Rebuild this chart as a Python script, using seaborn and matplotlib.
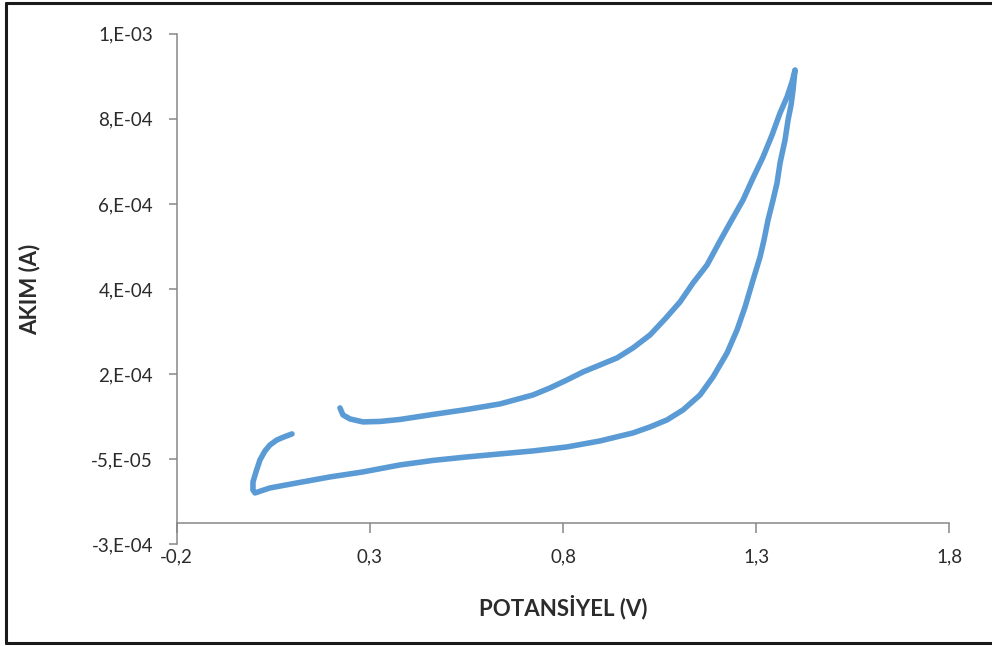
import numpy as np
import pandas as pd
import matplotlib
matplotlib.use("Agg")
import matplotlib.pyplot as plt
import seaborn as sns
from matplotlib.lines import Line2D

# Cyclic voltammogram: potential (V) and current (in units of 1e-4 A)
# forward (anodic) sweep
fwd_v = [0.2227, 0.2305, 0.2486, 0.2823, 0.3263, 0.3781, 0.4635, 0.5515, 0.6369,
         0.7224, 0.7664, 0.8104, 0.8518, 0.8958, 0.9398, 0.9812, 1.0252, 1.0641,
         1.1029, 1.1366, 1.1728, 1.2064, 1.2323, 1.2660, 1.2919, 1.3178, 1.3411,
         1.3618, 1.3799, 1.3928, 1.4006]
fwd_i = [0.706, 0.541, 0.447, 0.377, 0.388, 0.435, 0.553, 0.670, 0.800,
         1.011, 1.176, 1.364, 1.552, 1.716, 1.881, 2.116, 2.421, 2.797,
         3.197, 3.643, 4.066, 4.631, 5.053, 5.594, 6.111, 6.605, 7.122,
         7.639, 8.015, 8.367, 8.649]

# reverse (cathodic) sweep
rev_v = [1.3954, 1.3903, 1.3825, 1.3747, 1.3618, 1.3540, 1.3437, 1.3307, 1.3203,
         1.3100, 1.2919, 1.2712, 1.2505, 1.2246, 1.1883, 1.1547, 1.1107, 1.0692,
         1.0252, 0.9812, 0.8958, 0.8104, 0.7224, 0.6369, 0.5515, 0.4635, 0.3781,
         0.2823, 0.1968, 0.1114, 0.0415, 0.0027]
rev_i = [8.179, 7.827, 7.474, 7.004, 6.464, 5.994, 5.594, 5.124, 4.654,
         4.254, 3.714, 3.079, 2.539, 1.998, 1.434, 1.011, 0.659, 0.424,
         0.259, 0.118, -0.070, -0.211, -0.305, -0.375, -0.446, -0.528, -0.634,
         -0.798, -0.916, -1.057, -1.175, -1.292]

# second forward sweep after the switching potential
ret_v = [-0.0025, -0.0025, 0.0053, 0.0156, 0.0286, 0.0415, 0.0596, 0.0778, 0.0985]
ret_i = [-1.222, -1.033, -0.798, -0.516, -0.305, -0.164, -0.046, 0.024, 0.095]

x_ticks = [-0.2, 0.3, 0.8, 1.3, 1.8]
x_tick_labels = ["-0,2", "0,3", "0,8", "1,3", "1,8"]
y_ticks = [-2.5e-4, -0.5e-4, 1.5e-4, 3.5e-4, 5.5e-4, 7.5e-4, 9.5e-4]
y_tick_labels = ["-3,E-04", "-5,E-05", "2,E-04", "4,E-04", "6,E-04", "8,E-04", "1,E-03"]

potential = fwd_v + rev_v + ret_v
current = [c * 1e-4 for c in fwd_i + rev_i + ret_i]
df = pd.DataFrame({"step": np.arange(len(potential)),
                   "POTANSİYEL (V)": potential,
                   "AKIM (A)": current})

sns.set_theme(style="white")
plt.rcParams["font.family"] = ["Lato", "DejaVu Sans"]

fig = plt.figure(figsize=(9.92, 6.46), dpi=100)
ax = fig.add_axes([0.1781, 0.1574, 0.7789, 0.7903])

sns.lineplot(data=df, x="POTANSİYEL (V)", y="AKIM (A)", sort=False, estimator=None,
             color="#5B9BD5", linewidth=4.0, ax=ax)
for ln in ax.get_lines():
    ln.set_solid_capstyle("round")
    ln.set_solid_joinstyle("round")

ax.set_xlim(-0.2, 1.8)
ax.set_ylim(-2.5e-4, 9.5e-4)
ax.set_xticks(x_ticks)
ax.set_xticklabels(x_tick_labels)
ax.set_yticks(y_ticks)
ax.set_yticklabels(y_tick_labels)

axis_gray = "#878787"
for side in ["top", "right"]:
    ax.spines[side].set_visible(False)
ax.spines["bottom"].set_position(("data", -2e-4))
for side in ["left", "bottom"]:
    ax.spines[side].set_color(axis_gray)
    ax.spines[side].set_linewidth(1.1)

ax.tick_params(axis="y", direction="out", length=6, width=1.1, color=axis_gray,
               pad=11, labelsize=13.5, labelcolor="#2b2b2b", left=True)
ax.tick_params(axis="x", direction="out", length=7, width=1.1, color=axis_gray,
               pad=11, labelsize=13.5, labelcolor="#2b2b2b", bottom=True)

ax.set_xlabel("POTANSİYEL (V)", fontsize=16, fontweight="bold", color="#2b2b2b", va="center")
ax.set_ylabel("AKIM (A)", fontsize=16, fontweight="bold", color="#2b2b2b", va="center")
ax.xaxis.set_label_coords(0.5, -0.123)
ax.yaxis.set_label_coords(-0.19, 0.5)

# frame around the chart area
W, H = 992, 646
frame_kw = dict(color="#1a1a1a", linewidth=2.2, transform=fig.transFigure)
fig.add_artist(Line2D([6 / W, 6 / W], [1 - 3 / H, 1 - 643 / H], **frame_kw))
fig.add_artist(Line2D([6 / W, 1.0], [1 - 3 / H, 1 - 3 / H], **frame_kw))
fig.add_artist(Line2D([6 / W, 1.0], [1 - 643 / H, 1 - 643 / H], **frame_kw))

fig.savefig("out.png", dpi=100)
